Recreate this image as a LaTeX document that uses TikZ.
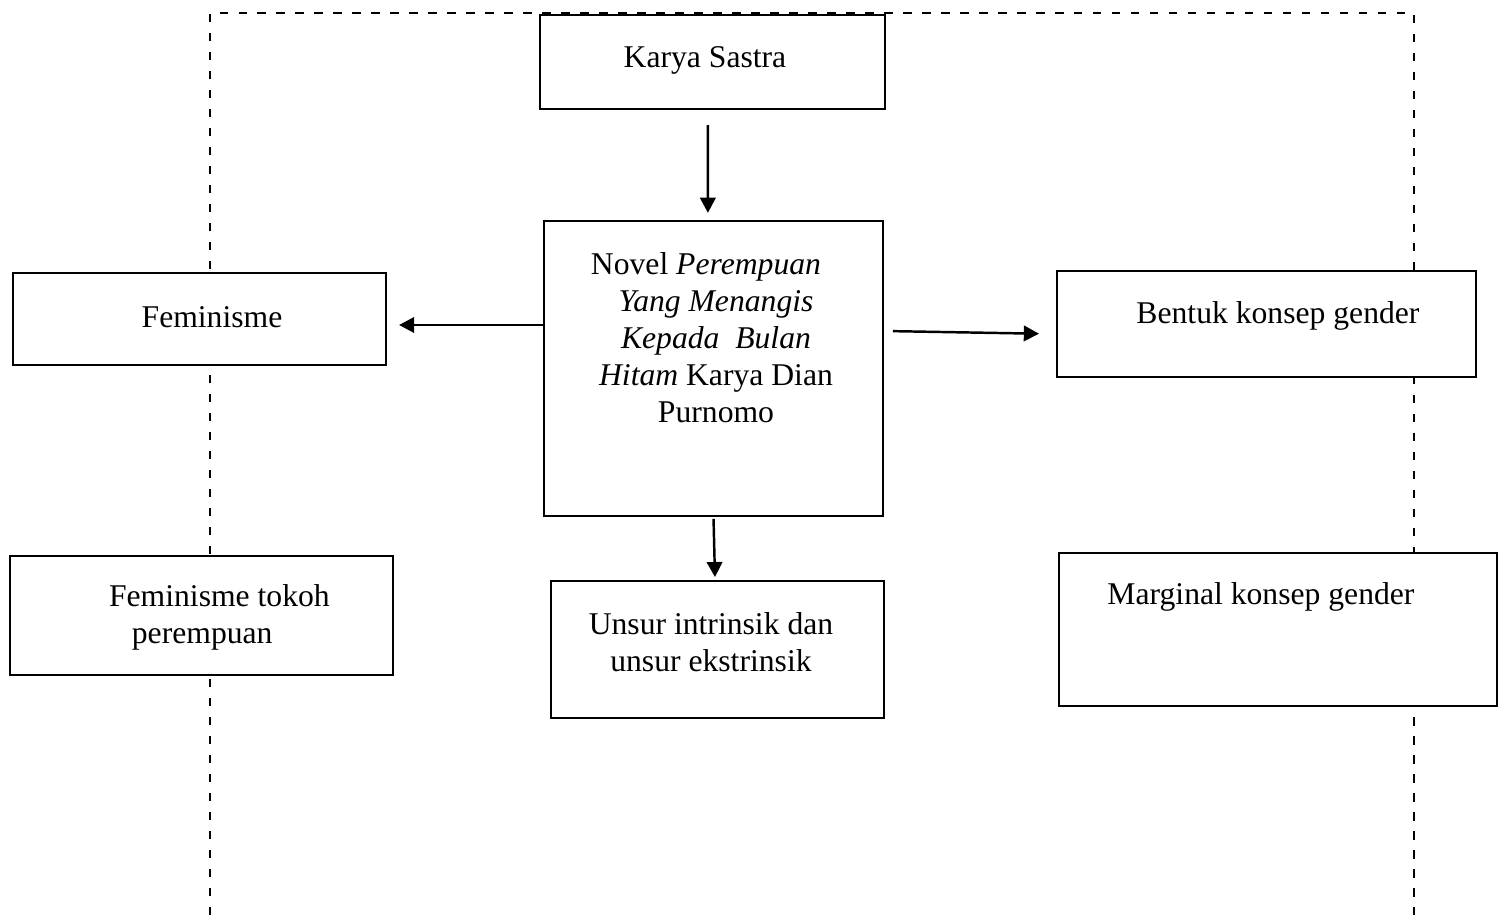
\documentclass[tikz,border=0pt]{standalone}
\usepackage{fontspec}
\setmainfont{Liberation Serif}
\usepackage{tikz}
\usetikzlibrary{arrows.meta, positioning}

\begin{document}
\begin{tikzpicture}[x=0.01cm, y=-0.01cm, line width=0.6pt,
    every node/.style={font=\fontsize{9}{10.5}\selectfont},
    box/.style={draw, fill=white, inner sep=0pt},
    txt/.style={inner sep=0pt, align=center},
    >={Triangle[length=4.3pt, width=4.4pt]}]
  \useasboundingbox (0,0) rectangle (1502,915);

  % Dashed frame (behind the boxes)
  \draw[dash pattern=on 2.4pt off 3pt] (210,915) -- (210,13) -- (1414,13) -- (1414,915);

  % Middle column
  \node[box, minimum width=3.45cm, minimum height=0.94cm] (ks) at (712.5,62) {};
  \node[txt] (kst) at (705,60) {Karya Sastra};
  \node[box, minimum width=3.39cm, minimum height=2.95cm] (nov) at (713.5,368.5) {};
  \node[txt] (novt) at (716,338) {Novel \textit{Perempuan}\hspace*{5.7pt}\\ \textit{Yang Menangis}\\
    \textit{Kepada~ Bulan}\\ \textit{Hitam} Karya Dian\\ Purnomo};
  \node[box, minimum width=3.33cm, minimum height=1.37cm] (uie) at (717.5,649.5) {};
  \node[txt] (uiet) at (711,642) {Unsur intrinsik dan\\ unsur ekstrinsik};

  % Left column
  \node[box, minimum width=3.73cm, minimum height=0.92cm] (fem) at (199.5,319) {};
  \node[txt] (femt) at (212,317) {Feminisme};
  \node[box, minimum width=3.83cm, minimum height=1.19cm] (ftp) at (201.5,615.5) {};
  \node[txt, anchor=west, align=left] (ftpt) at (108,617) {Feminisme tokoh\\ \hspace*{6.5pt}perempuan};

  % Right column
  \node[box, minimum width=4.19cm, minimum height=1.06cm] (bkg) at (1266.5,324) {};
  \node[txt] (bkgt) at (1278,316) {Bentuk konsep gender};
  \node[box, minimum width=4.38cm, minimum height=1.53cm] (mkg) at (1278,629.5) {};
  \node[txt] (mkgt) at (1261,597) {Marginal konsep gender};

  % Arrows
  \draw[->, line width=0.7pt, shorten <=4.3pt, shorten >=2pt] ([xshift=-1.3pt]ks.south) -- ([xshift=-1.6pt]nov.north);
  \draw[->, line width=0.7pt, shorten >=3.4pt] (nov.west |- 0,325) -- (fem.east |- 0,325);
  \draw[->, line width=0.7pt, shorten <=2.5pt, shorten >=4.8pt] (nov.east |- 0,331) -- (bkg.west |- 0,334);
  \draw[->, line width=0.7pt, shorten <=0.5pt, shorten >=0.8pt] (nov.south) -- ([xshift=-0.7pt]uie.north);
\end{tikzpicture}
\end{document}
